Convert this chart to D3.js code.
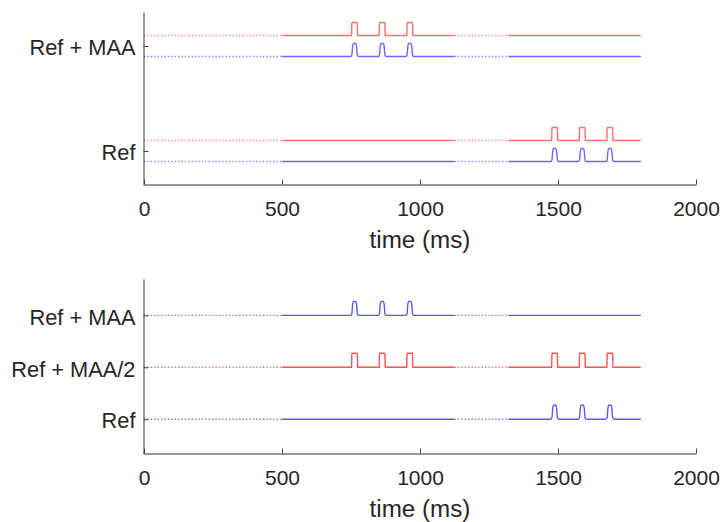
<!DOCTYPE html>
<html>
<head>
<meta charset="utf-8">
<script src="https://cdn.jsdelivr.net/npm/d3@7"></script>
<style>
  html, body { margin: 0; padding: 0; background: #fff; }
  svg { display: block; }
</style>
</head>
<body>
<svg id="chart" width="723" height="522"></svg>
<script>
// Trial timeline: boundaries of the baseline / first stimulus / gap / second stimulus (ms)
const intervalBounds = [0, 500, 1125, 1320, 1800];
const intervalStyle = ["dotted", "solid", "dotted", "solid"];
// Pulse centres inside the first and second stimulus (ms)
const pulseCentersFirst = [763, 863, 963];
const pulseCentersSecond = [1488, 1588, 1688];
const xTickValues = [0, 500, 1000, 1500, 2000];
const xLabel = "time (ms)";

// Upper panel: two conditions, each with a red and a blue trace
const topCategories = ["Ref", "Ref + MAA"];
const topRedLevels = [0.1, 1.1];
const topBlueLevels = [-0.1, 0.9];
const topPulseFirst = [false, true];
const topPulseSecond = [true, false];
const topPulseHeight = 0.124;

// Lower panel: three conditions, one trace each
const bottomCategories = ["Ref", "Ref + MAA/2", "Ref + MAA"];
const bottomLevels = [0, 1, 2];
const bottomColorKey = ["blue", "red", "blue"];
const bottomPulseFirst = [false, true, true];
const bottomPulseSecond = [true, true, false];
const bottomPulseHeight = 0.27;

const svg = d3.select("#chart");
const FONT = "'Liberation Sans', Arial, Helvetica, sans-serif";
const TEXT = "#262626";
const TICK_FONT = 21;
const CAT_FONT = 21.8;
const LABEL_FONT = 24.2;

// Pulse outlines, offsets from the centre (ms) and fraction of the pulse height
const redShape = { dx: [-11, -10, -9, 9, 10, 11], f: [0, 0.9, 1, 1, 0.9, 0] };
const blueShape = { dx: [-14, -10, -7, -4, 4, 7, 10, 14], f: [0, 0.12, 0.8, 1, 1, 0.8, 0.12, 0] };

function solidPoints(a, b, level, centers, shape, h) {
  const pts = [[a, level]];
  centers.filter(c => c > a && c < b).forEach(c => {
    shape.dx.forEach((d, i) => pts.push([c + d, level + shape.f[i] * h]));
  });
  pts.push([b, level]);
  return pts;
}

function drawTrace(g, x, y, level, color, pulseFirst, pulseSecond, shape, h, curve) {
  const line = d3.line().x(d => x(d[0])).y(d => y(d[1])).curve(curve);
  intervalStyle.forEach((style, i) => {
    const a = intervalBounds[i], b = intervalBounds[i + 1];
    if (style === "dotted") {
      g.append("path")
        .attr("d", d3.line().x(d => x(d[0])).y(d => y(d[1]))([[a, level], [b, level]]))
        .attr("fill", "none")
        .attr("stroke", color)
        .attr("stroke-width", 1.4)
        .attr("stroke-dasharray", "1.3,2.1")
        .attr("opacity", 0.85);
    } else {
      let centers = [];
      if (i === 1 && pulseFirst) centers = pulseCentersFirst;
      if (i === 3 && pulseSecond) centers = pulseCentersSecond;
      g.append("path")
        .attr("d", line(solidPoints(a, b, level, centers, shape, h)))
        .attr("fill", "none")
        .attr("stroke", color)
        .attr("stroke-width", 1.4)
        .attr("stroke-linejoin", "round");
    }
  });
}

function drawAxes(x, y, yTicks, yTickLabels) {
  const left = x.range()[0];
  const bottom = y.range()[0];
  const gx = svg.append("g")
    .attr("transform", `translate(0,${bottom - 0.5})`)
    .call(d3.axisBottom(x).tickValues(xTickValues).tickFormat(d3.format("d"))
      .tickSizeInner(-5).tickSizeOuter(0).tickPadding(17));
  const gy = svg.append("g")
    .attr("transform", `translate(${left - 0.5},0)`)
    .call(d3.axisLeft(y).tickValues(yTicks).tickFormat((d, i) => yTickLabels[i])
      .tickSizeInner(-5).tickSizeOuter(0).tickPadding(8));
  gx.attr("font-size", TICK_FONT);
  gy.attr("font-size", CAT_FONT);
  [gx, gy].forEach(g => {
    g.attr("font-family", FONT).attr("color", TEXT);
    g.select(".domain").attr("stroke", "#333");
    g.selectAll(".tick line").attr("stroke", "#444");
    g.selectAll("text").attr("fill", TEXT);
  });
  gy.selectAll("text").attr("dy", "0.4em");
  svg.append("text")
    .attr("x", (x.range()[0] + x.range()[1]) / 2)
    .attr("y", bottom + 63)
    .attr("text-anchor", "middle")
    .attr("font-family", FONT)
    .attr("font-size", LABEL_FONT)
    .attr("fill", TEXT)
    .text(xLabel);
}

// ---- upper panel ----
const xTop = d3.scaleLinear().domain([0, 2000]).range([144, 696]);
const yTop = d3.scaleLinear().domain([-0.324, 1.324]).range([185, 12]);
const gTop = svg.append("g");
const topRed = "#ff7070", topBlue = "#6a6aff";
topCategories.forEach((cat, i) => {
  drawTrace(gTop, xTop, yTop, topRedLevels[i], topRed, topPulseFirst[i], topPulseSecond[i],
    redShape, topPulseHeight, d3.curveLinear);
  drawTrace(gTop, xTop, yTop, topBlueLevels[i], topBlue, topPulseFirst[i], topPulseSecond[i],
    blueShape, topPulseHeight, d3.curveMonotoneX);
});
drawAxes(xTop, yTop, [0, 1], topCategories);

// ---- lower panel ----
const xBot = d3.scaleLinear().domain([0, 2000]).range([144, 696]);
const yBot = d3.scaleLinear().domain([-0.67, 2.7]).range([454, 279]);
const gBot = svg.append("g");
const botColors = { red: "#ff5252", blue: "#5858ff" };
bottomCategories.forEach((cat, i) => {
  const isRed = bottomColorKey[i] === "red";
  drawTrace(gBot, xBot, yBot, bottomLevels[i], botColors[bottomColorKey[i]],
    bottomPulseFirst[i], bottomPulseSecond[i],
    isRed ? redShape : blueShape, bottomPulseHeight,
    isRed ? d3.curveLinear : d3.curveMonotoneX);
});
drawAxes(xBot, yBot, bottomLevels, bottomCategories);
</script>
</body>
</html>
